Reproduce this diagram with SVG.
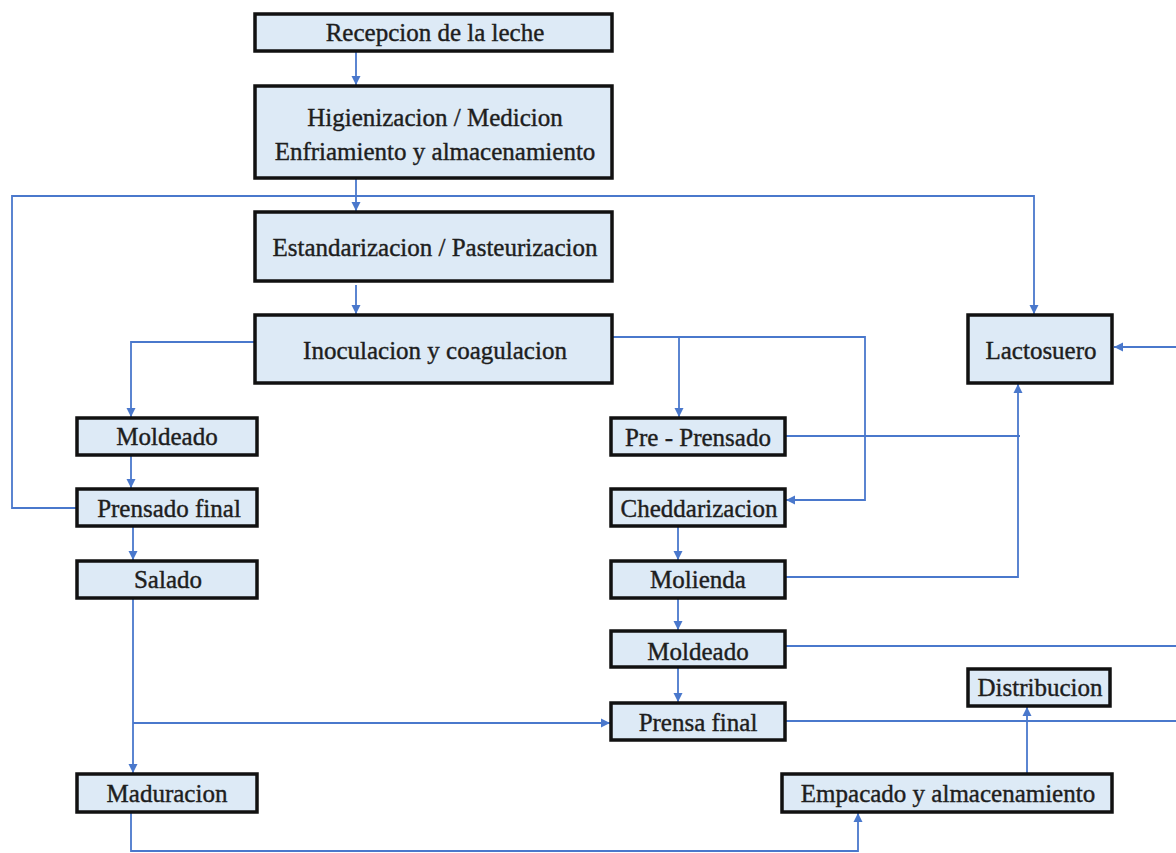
<svg xmlns="http://www.w3.org/2000/svg" width="1176" height="853" viewBox="0 0 1176 853">
<style>
.box{fill:#ddeaf6;stroke:#111;stroke-width:3.5}
.lbl{font-family:"Liberation Serif","Times New Roman",serif;font-size:25px;fill:#1e1e1e;stroke:#1e1e1e;stroke-width:0.4;text-anchor:middle}
.con{fill:none;stroke:#4a78cc;stroke-width:1.8}
.arr{marker-end:url(#ah)}
</style>
<defs>
<marker id="ah" markerUnits="userSpaceOnUse" markerWidth="10" markerHeight="10" refX="9" refY="5" orient="auto">
<path d="M0,0.5 L9,5 L0,9.5 Z" fill="#4a78cc"/>
</marker>
</defs>
<rect width="1176" height="853" fill="#ffffff"/>
<g id="connectors">
<path class="con arr" d="M356,51 V85"/>
<path class="con arr" d="M356,178 V211"/>
<path class="con arr" d="M77,508 H12 V196 H1034 V314"/>
<path class="con arr" d="M356,285 V314"/>
<path class="con arr" d="M255,342 H131 V417"/>
<path class="con arr" d="M613,337 H865 V500 H786"/>
<path class="con arr" d="M679,337 V417"/>
<path class="con" d="M785,436 H1020"/>
<path class="con arr" d="M785,577 H1018 V384"/>
<path class="con arr" d="M131,455 V488"/>
<path class="con arr" d="M133,526 V560"/>
<path class="con arr" d="M133,598 V773"/>
<path class="con arr" d="M133,723 H610"/>
<path class="con arr" d="M678,526 V560"/>
<path class="con arr" d="M678,598 V630"/>
<path class="con arr" d="M678,667 V702"/>
<path class="con" d="M785,646 H1176"/>
<path class="con" d="M785,721 H1176"/>
<path class="con arr" d="M1176,347 H1114"/>
<path class="con arr" d="M131,812 V851 H858 V813"/>
<path class="con arr" d="M1027,774 V707"/>
</g>
<g id="n-recepcion"><rect class="box" x="255" y="14" width="357" height="37"/><text class="lbl" x="435" y="41">Recepcion de la leche</text></g>
<g id="n-higienizacion"><rect class="box" x="255" y="86" width="357" height="92"/><text class="lbl" x="435" y="126">Higienizacion / Medicion</text><text class="lbl" x="435" y="160">Enfriamiento y almacenamiento</text></g>
<g id="n-estandarizacion"><rect class="box" x="255" y="212" width="357" height="69"/><text class="lbl" x="435" y="256">Estandarizacion / Pasteurizacion</text></g>
<g id="n-inoculacion"><rect class="box" x="255" y="315" width="357" height="68"/><text class="lbl" x="435" y="359">Inoculacion y coagulacion</text></g>
<g id="n-lactosuero"><rect class="box" x="968" y="315" width="144" height="68"/><text class="lbl" x="1041" y="359">Lactosuero</text></g>
<g id="n-moldeado1"><rect class="box" x="77" y="418" width="180" height="37"/><text class="lbl" x="167" y="445">Moldeado</text></g>
<g id="n-prensado-final"><rect class="box" x="77" y="489" width="180" height="37"/><text class="lbl" x="169" y="517">Prensado final</text></g>
<g id="n-salado"><rect class="box" x="77" y="561" width="180" height="37"/><text class="lbl" x="168" y="588">Salado</text></g>
<g id="n-maduracion"><rect class="box" x="77" y="774" width="180" height="38"/><text class="lbl" x="167" y="802">Maduracion</text></g>
<g id="n-preprensado"><rect class="box" x="611" y="418" width="174" height="37"/><text class="lbl" x="698" y="446">Pre - Prensado</text></g>
<g id="n-cheddarizacion"><rect class="box" x="611" y="489" width="174" height="37"/><text class="lbl" x="699" y="517">Cheddarizacion</text></g>
<g id="n-molienda"><rect class="box" x="611" y="561" width="174" height="37"/><text class="lbl" x="698" y="588">Molienda</text></g>
<g id="n-moldeado2"><rect class="box" x="611" y="631" width="174" height="36"/><text class="lbl" x="698" y="660">Moldeado</text></g>
<g id="n-prensa-final"><rect class="box" x="611" y="703" width="174" height="37"/><text class="lbl" x="698" y="731">Prensa final</text></g>
<g id="n-distribucion"><rect class="box" x="968" y="669" width="142" height="37"/><text class="lbl" x="1040" y="696">Distribucion</text></g>
<g id="n-empacado"><rect class="box" x="782" y="774" width="330" height="38"/><text class="lbl" x="948" y="802">Empacado y almacenamiento</text></g>
</svg>
